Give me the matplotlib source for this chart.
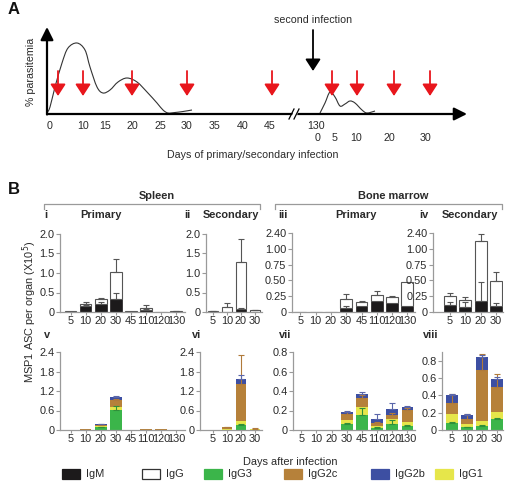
import numpy as np
import matplotlib
matplotlib.use('Agg')
import matplotlib.pyplot as plt
from matplotlib.patches import Rectangle, Polygon, PathPatch
from matplotlib.path import Path

plt.rcParams['font.family'] = ['Liberation Sans', 'DejaVu Sans']

# ---------------- data ----------------
# Panel A: schematic time axis (axis units along the drawn arrow)
prim_tick_labels = ['0', '10', '15', '20', '25', '30', '35', '40', '45', '130']
prim_tick_pos = [3, 36, 58, 85, 113, 140, 168, 196, 223, 269]
sec_tick_labels = ['0', '5', '10', '20', '30']
sec_tick_pos = [271, 288, 309, 342, 379]
sample_pos = [11, 36, 85, 140, 225, 285, 310, 347, 383]
second_inf_pos = 266
para1_x = [0, 3, 8, 15, 21, 30, 38, 43, 50, 56, 63, 71, 80, 90, 100, 110, 116, 121, 128, 136, 145]
para1_y = [1, 7, 27, 51, 66, 71, 64, 47, 27, 21, 24, 32, 36, 32, 22, 11, 4, 1, 1.5, 2.5, 4]
para2_x = [273, 278, 283, 288, 293, 298, 303, 308, 315, 320, 328]
para2_y = [1, 11, 22, 17, 8, 10, 13, 11, 4, 1, 3]

# Panel B
days_primary = ['5', '10', '20', '30', '45', '110', '120', '130']
days_secondary = ['5', '10', '20', '30']

# i  spleen primary (IgM segment, IgG segment stacked on top, upper errors)
spl_pri_igm = [0.01, 0.15, 0.20, 0.33, 0.01, 0.05, 0.005, 0.005]
spl_pri_igg = [0.01, 0.05, 0.13, 0.70, 0.005, 0.06, 0.005, 0.015]
spl_pri_igm_err = [0, 0.02, 0.06, 0.15, 0, 0.02, 0, 0]
spl_pri_igg_err = [0, 0.05, 0.02, 0.33, 0, 0.07, 0, 0.01]
# ii spleen secondary
spl_sec_igm = [0.01, 0.0, 0.08, 0.01]
spl_sec_igg = [0.01, 0.13, 1.19, 0.03]
spl_sec_igm_err = [0, 0, 0.02, 0]
spl_sec_igg_err = [0.01, 0.09, 0.60, 0.02]
# iii bone marrow primary (values on broken axis scale)
bm_pri_igm = [0, 0, 0, 0.06, 0.09, 0.18, 0.14, 0.09]
bm_pri_igg = [0, 0, 0, 0.14, 0.07, 0.09, 0.09, 0.39]
bm_pri_igm_err = [0, 0, 0, 0.03, 0, 0, 0, 0]
bm_pri_igg_err = [0, 0, 0, 0.08, 0.02, 0.07, 0.03, 0]
# iv bone marrow secondary
bm_sec_igm = [0.11, 0.08, 0.18, 0.10]
bm_sec_igg = [0.15, 0.11, 0.94, 0.39]
bm_sec_igm_err = [0.05, 0.08, 0.29, 0.05]
bm_sec_igg_err = [0.04, 0.04, 0.11, 0.15]
broken_ticks = [0, 0.25, 0.5, 0.75, 1.0, 1.25]
broken_labels = ['0', '0.25', '0.50', '0.75', '1.00', '2.40']

# v spleen primary isotypes (IgG3, IgG1, IgG2c, IgG2b stacked)
v_g3 = [0.01, 0.01, 0.08, 0.63, 0.005, 0.01, 0.01, 0.005]
v_g1 = [0.0, 0.005, 0.03, 0.09, 0.0, 0.005, 0.005, 0.0]
v_g2c = [0.0, 0.02, 0.05, 0.21, 0.0, 0.02, 0.02, 0.005]
v_g2b = [0.0, 0.0, 0.01, 0.08, 0.0, 0.0, 0.0, 0.0]
v_g3_err = [0, 0, 0.02, 0.12, 0, 0, 0, 0]
v_g2c_err = [0, 0, 0.01, 0.03, 0, 0, 0, 0]
v_g2b_err = [0, 0, 0.01, 0.03, 0, 0, 0, 0]
# vi spleen secondary isotypes
vi_g3 = [0.01, 0.01, 0.15, 0.01]
vi_g1 = [0.0, 0.01, 0.13, 0.01]
vi_g2c = [0.0, 0.06, 1.15, 0.02]
vi_g2b = [0.0, 0.0, 0.15, 0.0]
vi_g3_err = [0, 0, 0.05, 0]
vi_g2c_err = [0, 0.02, 0.87, 0.02]
vi_g2b_err = [0, 0, 0.12, 0]
# vii bone marrow primary isotypes
vii_g3 = [0, 0, 0, 0.06, 0.15, 0.02, 0.06, 0.04]
vii_g1 = [0, 0, 0, 0.04, 0.09, 0.02, 0.05, 0.04]
vii_g2c = [0, 0, 0, 0.06, 0.09, 0.03, 0.04, 0.13]
vii_g2b = [0, 0, 0, 0.02, 0.04, 0.04, 0.07, 0.03]
vii_g3_err = [0, 0, 0, 0.01, 0.08, 0.01, 0.04, 0.01]
vii_g2c_err = [0, 0, 0, 0.02, 0.03, 0.01, 0.02, 0.02]
vii_g2b_err = [0, 0, 0, 0.01, 0.02, 0.05, 0.06, 0.01]
# viii bone marrow secondary isotypes
viii_g3 = [0.08, 0.03, 0.05, 0.13]
viii_g1 = [0.10, 0.04, 0.05, 0.08]
viii_g2c = [0.13, 0.06, 0.59, 0.29]
viii_g2b = [0.09, 0.04, 0.15, 0.09]
viii_g3_err = [0.01, 0.01, 0.01, 0.01]
viii_g2c_err = [0.10, 0.05, 0.19, 0.15]
viii_g2b_err = [0.02, 0.02, 0.03, 0.02]

legend_labels = ['IgM', 'IgG', 'IgG3', 'IgG2c', 'IgG2b', 'IgG1']

# ---------------- style ----------------
C_IGM = '#1c1a1b'
C_G3 = '#3bb54a'
C_G1 = '#e6e64a'
C_G2C = '#b6813a'
C_G2B = '#3d4fa2'
C_RED = '#e8161c'
SPINE = '#9a9a9a'
TXT = '#2a2a2a'
FS = 7.9
FSA = 7.7

W, H = 505, 487
fig = plt.figure(figsize=(W / 100, H / 100), dpi=100)


def rect(x0, y_top, x1, y_bot):
    return [x0 / W, 1 - y_bot / H, (x1 - x0) / W, (y_bot - y_top) / H]


# ---------------- Panel A ----------------
axA = fig.add_axes(rect(47, 28, 470, 114))
axA.set_xlim(0, 423)
axA.set_ylim(0, 86)
axA.axis('off')


def smooth_path(xs, ys):
    pts = np.column_stack([xs, ys]).astype(float)
    n = len(pts)
    verts = [pts[0]]
    codes = [Path.MOVETO]
    for i in range(n - 1):
        p0 = pts[max(i - 1, 0)]
        p1 = pts[i]
        p2 = pts[i + 1]
        p3 = pts[min(i + 2, n - 1)]
        c1 = p1 + (p2 - p0) / 6.0
        c2 = p2 - (p3 - p1) / 6.0
        verts += [c1, c2, p2]
        codes += [Path.CURVE4] * 3
    return Path(verts, codes)


for xs, ys in [(para1_x, para1_y), (para2_x, para2_y)]:
    axA.add_patch(PathPatch(smooth_path(xs, ys), fill=False, edgecolor='#333333', lw=0.8,
                            clip_on=False, zorder=2))

axA.annotate('', xy=(420, 0), xytext=(0, 0), annotation_clip=False,
             arrowprops=dict(arrowstyle='-|>,head_length=0.7,head_width=0.35', color='black',
                             lw=1.6, mutation_scale=11, shrinkA=0, shrinkB=0), zorder=3)
axA.annotate('', xy=(0, 87), xytext=(0, -0.5), annotation_clip=False,
             arrowprops=dict(arrowstyle='-|>,head_length=0.7,head_width=0.35', color='black',
                             lw=1.6, mutation_scale=11, shrinkA=0, shrinkB=0), zorder=3)
# axis break
axA.add_patch(Polygon([[244, -5], [249, -5], [252, 5], [247, 5]], closed=True, facecolor='white',
                      edgecolor='none', zorder=4, clip_on=False))
axA.plot([242, 247], [-5, 5], color='black', lw=0.9, zorder=5, clip_on=False)
axA.plot([247, 252], [-5, 5], color='black', lw=0.9, zorder=5, clip_on=False)

for p in sample_pos:
    axA.annotate('', xy=(p, 18), xytext=(p, 43), annotation_clip=False,
                 arrowprops=dict(arrowstyle='-|>,head_length=0.65,head_width=0.42', color=C_RED,
                                 lw=1.3, mutation_scale=11, shrinkA=0, shrinkB=0), zorder=4)
axA.annotate('', xy=(second_inf_pos, 43), xytext=(second_inf_pos, 84), annotation_clip=False,
             arrowprops=dict(arrowstyle='-|>,head_length=0.65,head_width=0.42', color='black',
                             lw=1.3, mutation_scale=11, shrinkA=0, shrinkB=0), zorder=4)
axA.text(second_inf_pos, 94, 'second infection', ha='center', va='center', fontsize=FSA, color=TXT,
         clip_on=False)
for lab, p in zip(prim_tick_labels, prim_tick_pos):
    axA.text(p, -12, lab, ha='center', va='center', fontsize=FSA, color=TXT, clip_on=False)
for lab, p in zip(sec_tick_labels, sec_tick_pos):
    axA.text(p, -24, lab, ha='center', va='center', fontsize=FSA, color=TXT, clip_on=False)


# ---------------- Panel B helpers ----------------
def style_axis(ax, xlabels, ylim, yticks, yticklabels, xlim):
    ax.set_xlim(*xlim)
    ax.set_ylim(*ylim)
    ax.set_xticks(range(len(xlabels)))
    ax.set_xticklabels(xlabels)
    ax.set_yticks(yticks)
    ax.set_yticklabels(yticklabels)
    for s in ['top', 'right']:
        ax.spines[s].set_visible(False)
    for s in ['left', 'bottom']:
        ax.spines[s].set_color(SPINE)
        ax.spines[s].set_linewidth(0.9)
    ax.tick_params(axis='both', colors=SPINE, labelcolor=TXT, labelsize=FS, width=0.8)
    ax.tick_params(axis='x', length=2, pad=1)
    ax.tick_params(axis='y', length=3, pad=1)
    ax.patch.set_alpha(0)


def upper_err(ax, top, err, color):
    top = np.asarray(top, float)
    err = np.asarray(err, float)
    x = np.arange(len(top))
    m = err > 0
    if m.any():
        ax.errorbar(x[m], top[m], yerr=[np.zeros(m.sum()), err[m]], fmt='none', ecolor=color,
                    elinewidth=0.8, capsize=2.2, capthick=0.8, zorder=4)


BW = 0.78


def draw_top(ax, igm, igg, igm_err, igg_err):
    x = np.arange(len(igm))
    igm = np.asarray(igm, float)
    igg = np.asarray(igg, float)
    ax.bar(x, igm, BW, color=C_IGM, edgecolor=C_IGM, lw=0.5, zorder=2)
    ax.bar(x, igg, BW, bottom=igm, color='white', edgecolor='#555555', lw=0.8, zorder=2)
    upper_err(ax, igm, igm_err, '#555555')
    upper_err(ax, igm + igg, igg_err, '#555555')


def draw_bottom(ax, g3, g1, g2c, g2b, g3e, g2ce, g2be):
    x = np.arange(len(g3))
    g3 = np.asarray(g3, float)
    g1 = np.asarray(g1, float)
    g2c = np.asarray(g2c, float)
    g2b = np.asarray(g2b, float)
    b = np.zeros(len(g3))
    for vals, col in [(g3, C_G3), (g1, C_G1), (g2c, C_G2C), (g2b, C_G2B)]:
        ax.bar(x, vals, BW, bottom=b, color=col, edgecolor='none', zorder=2)
        b = b + vals
    upper_err(ax, g3, g3e, '#2f8f3a')
    upper_err(ax, g3 + g1 + g2c, g2ce, '#b07a3a')
    upper_err(ax, b, g2be, '#5a66aa')


ticks2 = [0, 0.5, 1.0, 1.5, 2.0]
ticks2l = ['0', '0.5', '1.0', '1.5', '2.0']
ticks24 = [0, 0.6, 1.2, 1.8, 2.4]
ticks24l = ['0', '0.6', '1.2', '1.8', '2.4']
ticks08 = [0, 0.2, 0.4, 0.6, 0.8]
ticks08l = ['0', '0.2', '0.4', '0.6', '0.8']

# i
ax = fig.add_axes(rect(60, 234, 185, 312))
draw_top(ax, spl_pri_igm, spl_pri_igg, spl_pri_igm_err, spl_pri_igg_err)
style_axis(ax, days_primary, (0, 2.0), ticks2, ticks2l, (-0.7, 7.6))
# ii
ax = fig.add_axes(rect(206, 234, 262, 312))
draw_top(ax, spl_sec_igm, spl_sec_igg, spl_sec_igm_err, spl_sec_igg_err)
style_axis(ax, days_secondary, (0, 2.0), ticks2, ticks2l, (-0.5, 3.5))
# iii
ax = fig.add_axes(rect(292, 233, 415, 312))
draw_top(ax, bm_pri_igm, bm_pri_igg, bm_pri_igm_err, bm_pri_igg_err)
style_axis(ax, days_primary, (0, 1.25), broken_ticks, broken_labels, (-0.55, 7.5))
# iv
ax = fig.add_axes(rect(433, 233, 503, 312))
draw_top(ax, bm_sec_igm, bm_sec_igg, bm_sec_igm_err, bm_sec_igg_err)
style_axis(ax, days_secondary, (0, 1.25), broken_ticks, broken_labels, (-1.1, 3.45))
# v
ax = fig.add_axes(rect(60, 352, 185, 430))
draw_bottom(ax, v_g3, v_g1, v_g2c, v_g2b, v_g3_err, v_g2c_err, v_g2b_err)
style_axis(ax, days_primary, (0, 2.4), ticks24, ticks24l, (-0.7, 7.6))
# vi
ax = fig.add_axes(rect(200, 352, 262, 430))
draw_bottom(ax, vi_g3, vi_g1, vi_g2c, vi_g2b, vi_g3_err, vi_g2c_err, vi_g2b_err)
style_axis(ax, days_secondary, (0, 2.4), ticks24, ticks24l, (-0.93, 3.5))
# vii
ax = fig.add_axes(rect(293, 352, 415, 430))
draw_bottom(ax, vii_g3, vii_g1, vii_g2c, vii_g2b, vii_g3_err, vii_g2c_err, vii_g2b_err)
style_axis(ax, days_primary, (0, 0.8), ticks08, ticks08l, (-0.55, 7.5))
# viii
ax = fig.add_axes(rect(442, 352, 503, 430))
draw_bottom(ax, viii_g3, viii_g1, viii_g2c, viii_g2b, viii_g3_err, viii_g2c_err, viii_g2b_err)
style_axis(ax, days_secondary, (0, 0.9), ticks08, ticks08l, (-0.65, 3.4))

# ---------------- overlay: labels, brackets, legend ----------------
ov = fig.add_axes([0, 0, 1, 1])
ov.set_xlim(0, W)
ov.set_ylim(H, 0)
ov.axis('off')
ov.patch.set_alpha(0)

ov.text(8, 10, 'A', fontsize=12, fontweight='bold', ha='left', va='center', color='#111')
ov.text(31, 72, '% parasitemia', rotation=90, fontsize=FSA, ha='center', va='center', color=TXT)
ov.text(253, 155, 'Days of primary/secondary infection', fontsize=FSA, ha='center', va='center',
        color=TXT)

ov.text(8, 190, 'B', fontsize=12, fontweight='bold', ha='left', va='center', color='#111')
for (x0, x1, xc, lab) in [(44, 260, 157, 'Spleen'), (275, 502, 393, 'Bone marrow')]:
    ov.plot([x0, x0, x1, x1], [209, 204, 204, 209], color=SPINE, lw=0.9)
    ov.text(xc, 196, lab, fontsize=FS, fontweight='bold', ha='center', va='center', color=TXT)
for (x, lab) in [(46, 'i'), (101, 'Primary'), (187, 'ii'), (231, 'Secondary'),
                 (283, 'iii'), (356, 'Primary'), (424, 'iv'), (470, 'Secondary')]:
    ov.text(x, 215, lab, fontsize=FS, fontweight='bold', ha='center', va='center', color=TXT)
for (x, lab) in [(47, 'v'), (197, 'vi'), (285, 'vii'), (431, 'viii')]:
    ov.text(x, 335, lab, fontsize=FS, fontweight='bold', ha='center', va='center', color=TXT)

ov.text(30, 312, 'MSP1 ASC per organ (X10$^5$)', rotation=90, fontsize=FS, ha='center',
        va='center', color=TXT)
ov.text(290, 462, 'Days after infection', fontsize=FS, ha='center', va='center', color=TXT)

leg_x = [62, 142, 204, 284, 371, 435]
leg_fc = [C_IGM, 'white', C_G3, C_G2C, C_G2B, C_G1]
leg_ec = [C_IGM, '#333333', C_G3, C_G2C, C_G2B, C_G1]
for x, lab, fc, ec in zip(leg_x, legend_labels, leg_fc, leg_ec):
    ov.add_patch(Rectangle((x, 469), 18, 10, facecolor=fc, edgecolor=ec, lw=0.9))
    ov.text(x + 24, 474, lab, fontsize=FS, ha='left', va='center', color=TXT)

fig.savefig('out.png', dpi=100)
